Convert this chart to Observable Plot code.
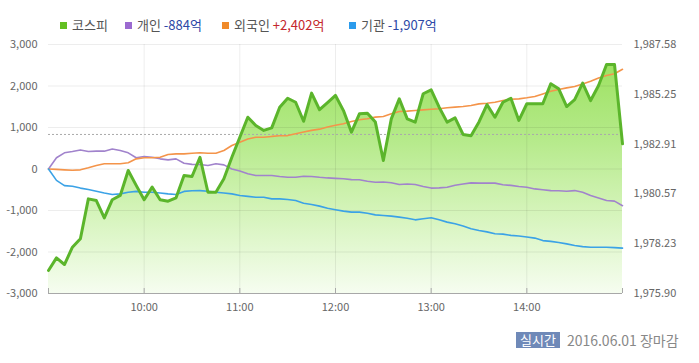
<!DOCTYPE html>
<html><head><meta charset="utf-8">
<script src="https://cdn.jsdelivr.net/npm/d3@7"></script>
<script src="https://cdn.jsdelivr.net/npm/@observablehq/plot@0.6"></script>
<style>
body{margin:0;background:#fff;font-family:"Noto Sans CJK KR","Noto Sans",sans-serif;}
#wrap{position:relative;width:699px;height:363px;overflow:hidden;}
#chart{position:absolute;left:0;top:0;}
.lg{position:absolute;top:17px;font-size:13px;color:#555;white-space:nowrap;line-height:16px;}
.lg i{display:inline-block;width:7px;height:7px;margin-right:5px;vertical-align:1px;}
.neg{color:#2b47a6;}
.pos{color:#c4262b;}
#footer{position:absolute;left:516px;top:332px;font-size:14px;color:#888;white-space:nowrap;line-height:17px;}
#footer b{display:inline-block;font-weight:normal;background:#6f89b8;color:#fff;font-size:13px;padding:0 4px;height:16px;line-height:16px;margin-right:7px;vertical-align:1px;}
</style></head><body>
<div id="wrap"><div id="chart"></div><div id="legend"></div><div id="footer"></div></div>
<script>
const times = ["09:00","09:05","09:10","09:15","09:20","09:25","09:30","09:35","09:40","09:45","09:50","09:55",
"10:00","10:05","10:10","10:15","10:20","10:25","10:30","10:35","10:40","10:45","10:50","10:55",
"11:00","11:05","11:10","11:15","11:20","11:25","11:30","11:35","11:40","11:45","11:50","11:55",
"12:00","12:05","12:10","12:15","12:20","12:25","12:30","12:35","12:40","12:45","12:50","12:55",
"13:00","13:05","13:10","13:15","13:20","13:25","13:30","13:35","13:40","13:45","13:50","13:55",
"14:00","14:05","14:10","14:15","14:20","14:25","14:30","14:35","14:40","14:45","14:50","14:55",
"15:00"];
const kospi = [1976.98,1977.57,1977.26,1978.07,1978.47,1980.34,1980.26,1979.45,1980.30,1980.50,1981.67,1980.97,
1980.30,1980.89,1980.30,1980.23,1980.39,1981.44,1981.39,1982.29,1980.65,1980.65,1981.28,1982.29,
1983.23,1984.17,1983.78,1983.55,1983.67,1984.64,1985.06,1984.87,1983.98,1985.30,1984.52,1984.85,
1985.19,1984.48,1983.47,1984.33,1984.36,1983.94,1982.14,1984.09,1985.03,1984.09,1983.94,1985.27,
1985.45,1984.64,1983.94,1984.14,1983.36,1983.30,1983.95,1984.76,1984.17,1984.87,1985.06,1984.02,
1984.80,1984.80,1984.80,1985.74,1985.50,1984.67,1984.99,1985.77,1984.95,1985.66,1986.64,1986.64,
1982.92];
const individual = [0,270,390,420,460,420,430,430,480,445,390,270,
300,285,245,220,245,140,112,110,85,125,100,0,
-50,-115,-155,-155,-155,-180,-200,-200,-175,-180,-200,-215,
-225,-235,-255,-260,-295,-320,-315,-330,-375,-360,-375,-420,
-460,-455,-440,-390,-360,-335,-340,-340,-340,-380,-395,-420,
-440,-480,-500,-520,-525,-535,-520,-560,-640,-700,-760,-775,
-884];
const foreign = [0,-10,-20,-30,-20,30,85,125,125,125,150,245,
270,270,285,350,365,365,380,390,380,380,445,565,
645,725,765,765,785,800,805,850,890,930,960,1010,
1055,1090,1145,1185,1210,1250,1265,1330,1385,1395,1410,1425,
1440,1450,1475,1490,1505,1530,1570,1585,1610,1650,1680,1690,
1715,1745,1810,1875,1915,1955,1990,2050,2115,2195,2255,2295,
2402];
const institution = [0,-275,-400,-415,-460,-495,-535,-580,-615,-600,-560,-540,
-560,-560,-580,-600,-615,-540,-525,-520,-535,-560,-580,-600,
-640,-660,-680,-680,-720,-720,-735,-760,-825,-855,-895,-945,
-980,-1015,-1040,-1040,-1065,-1105,-1120,-1135,-1160,-1185,-1225,-1200,
-1175,-1225,-1280,-1320,-1375,-1440,-1480,-1515,-1560,-1570,-1600,-1615,
-1640,-1665,-1725,-1745,-1770,-1805,-1845,-1870,-1885,-1885,-1885,-1895,
-1907];
const leftTicks = [-3000,-2000,-1000,0,1000,2000,3000];
const rightTickValues = [1975.90,1978.23,1980.57,1982.91,1985.25,1987.58];
const rightTickLabels = ["1,975.90","1,978.23","1,980.57","1,982.91","1,985.25","1,987.58"];
const hourTicks = ["09:00","10:00","11:00","12:00","13:00","14:00","15:00"];
const hourLabels = ["10:00","11:00","12:00","13:00","14:00"];
const prevClose = 1983.36;
const legendNames = ["코스피","개인","외국인","기관"];
const legendTotals = ["", "-884억", "+2,402억", "-1,907억"];
const legendColors = ["#63bf22","#9b6ad0","#f08a2a","#2b9bec"];
const lineColors = ["#5bb52b","#a183cc","#f4944a","#3ba2e6"];

const toMin = s => { const [h, m] = s.split(":").map(Number); return h * 60 + m; };
const kLo = rightTickValues[0], kHi = rightTickValues[rightTickValues.length - 1];
const lLo = leftTicks[0], lHi = leftTicks[leftTicks.length - 1];
const toLeft = k => (k - kLo) / (kHi - kLo) * (lHi - lLo) + lLo;

const data = times.map((t, i) => ({
  t: toMin(t), kospi: toLeft(kospi[i]),
  individual: individual[i], foreign: foreign[i], institution: institution[i]
}));
const rightPos = rightTickValues.map(toLeft);
const fmt = d => d.toLocaleString("en-US");
const minFmt = d => String(Math.floor(d / 60)).padStart(2, "0") + ":" + String(d % 60).padStart(2, "0");

const plot = Plot.plot({
  width: 699, height: 363,
  marginLeft: 48, marginRight: 77, marginTop: 44, marginBottom: 70,
  style: {fontFamily: '"Noto Sans CJK KR","Noto Sans",sans-serif', fontSize: "11px", color: "#666", background: "transparent"},
  x: {type: "linear", domain: [toMin(hourTicks[0]), toMin(hourTicks[hourTicks.length - 1])], axis: null, label: null},
  y: {domain: [lLo, lHi], axis: null, label: null},
  marks: [
    Plot.areaY(data, {x: "t", y1: lLo, y2: "kospi", fill: "url(#kospiGrad)", curve: "linear"}),
    Plot.gridY(leftTicks.slice(1), {stroke: "#000", strokeOpacity: 0.07}),
    Plot.gridX(hourLabels.map(toMin), {stroke: "#000", strokeOpacity: 0.07}),
    Plot.ruleY([toLeft(prevClose)], {stroke: "#aaa", strokeDasharray: "2,2"}),
    Plot.ruleY([lLo], {stroke: "#a8a8a8"}),
    Plot.ruleX(hourTicks.map(toMin), {y1: lLo, y2: lLo + 120, stroke: "#a8a8a8"}),
    Plot.axisY(leftTicks, {anchor: "left", label: null, tickSize: 0, tickPadding: 11, tickFormat: fmt, fill: "#666"}),
    Plot.axisY(rightPos, {anchor: "right", label: null, tickSize: 0, tickPadding: 11, fill: "#666",
      tickFormat: d => rightTickLabels[rightPos.indexOf(d)]}),
    Plot.axisX(hourLabels.map(toMin), {anchor: "bottom", label: null, tickSize: 0, tickPadding: 10, tickFormat: minFmt, fill: "#666"}),
    Plot.line(data, {x: "t", y: "individual", stroke: lineColors[1], strokeWidth: 1.6}),
    Plot.line(data, {x: "t", y: "foreign", stroke: lineColors[2], strokeWidth: 1.6}),
    Plot.line(data, {x: "t", y: "institution", stroke: lineColors[3], strokeWidth: 1.6}),
    Plot.line(data, {x: "t", y: "kospi", stroke: lineColors[0], strokeWidth: 3, strokeLinejoin: "round"})
  ]
});

const ys = plot.scale("y");
const svg = d3.select(plot);
const defs = svg.insert("defs", ":first-child");
const g = defs.append("linearGradient").attr("id", "kospiGrad")
  .attr("gradientUnits", "userSpaceOnUse")
  .attr("x1", 0).attr("x2", 0)
  .attr("y1", ys.apply(lHi)).attr("y2", ys.apply(lLo));
[[0, "#98e058"], [0.35, "#b2e985"], [0.65, "#d2f3b6"], [1, "#f6fdf0"]].forEach(([o, c]) =>
  g.append("stop").attr("offset", o).attr("stop-color", c));
document.getElementById("chart").appendChild(plot);

const legendX = [60, 125, 222, 349];
const legend = document.getElementById("legend");
legendNames.forEach((n, i) => {
  const d = document.createElement("div");
  d.className = "lg";
  d.style.left = legendX[i] + "px";
  const tot = legendTotals[i];
  d.innerHTML = `<i style="background:${legendColors[i]}"></i>${n}` +
    (tot ? ` <span class="${tot.startsWith("-") ? "neg" : "pos"}">${tot}</span>` : "");
  legend.appendChild(d);
});
document.getElementById("footer").innerHTML = "<b>실시간</b>2016.06.01 장마감";
</script>
</body></html>
